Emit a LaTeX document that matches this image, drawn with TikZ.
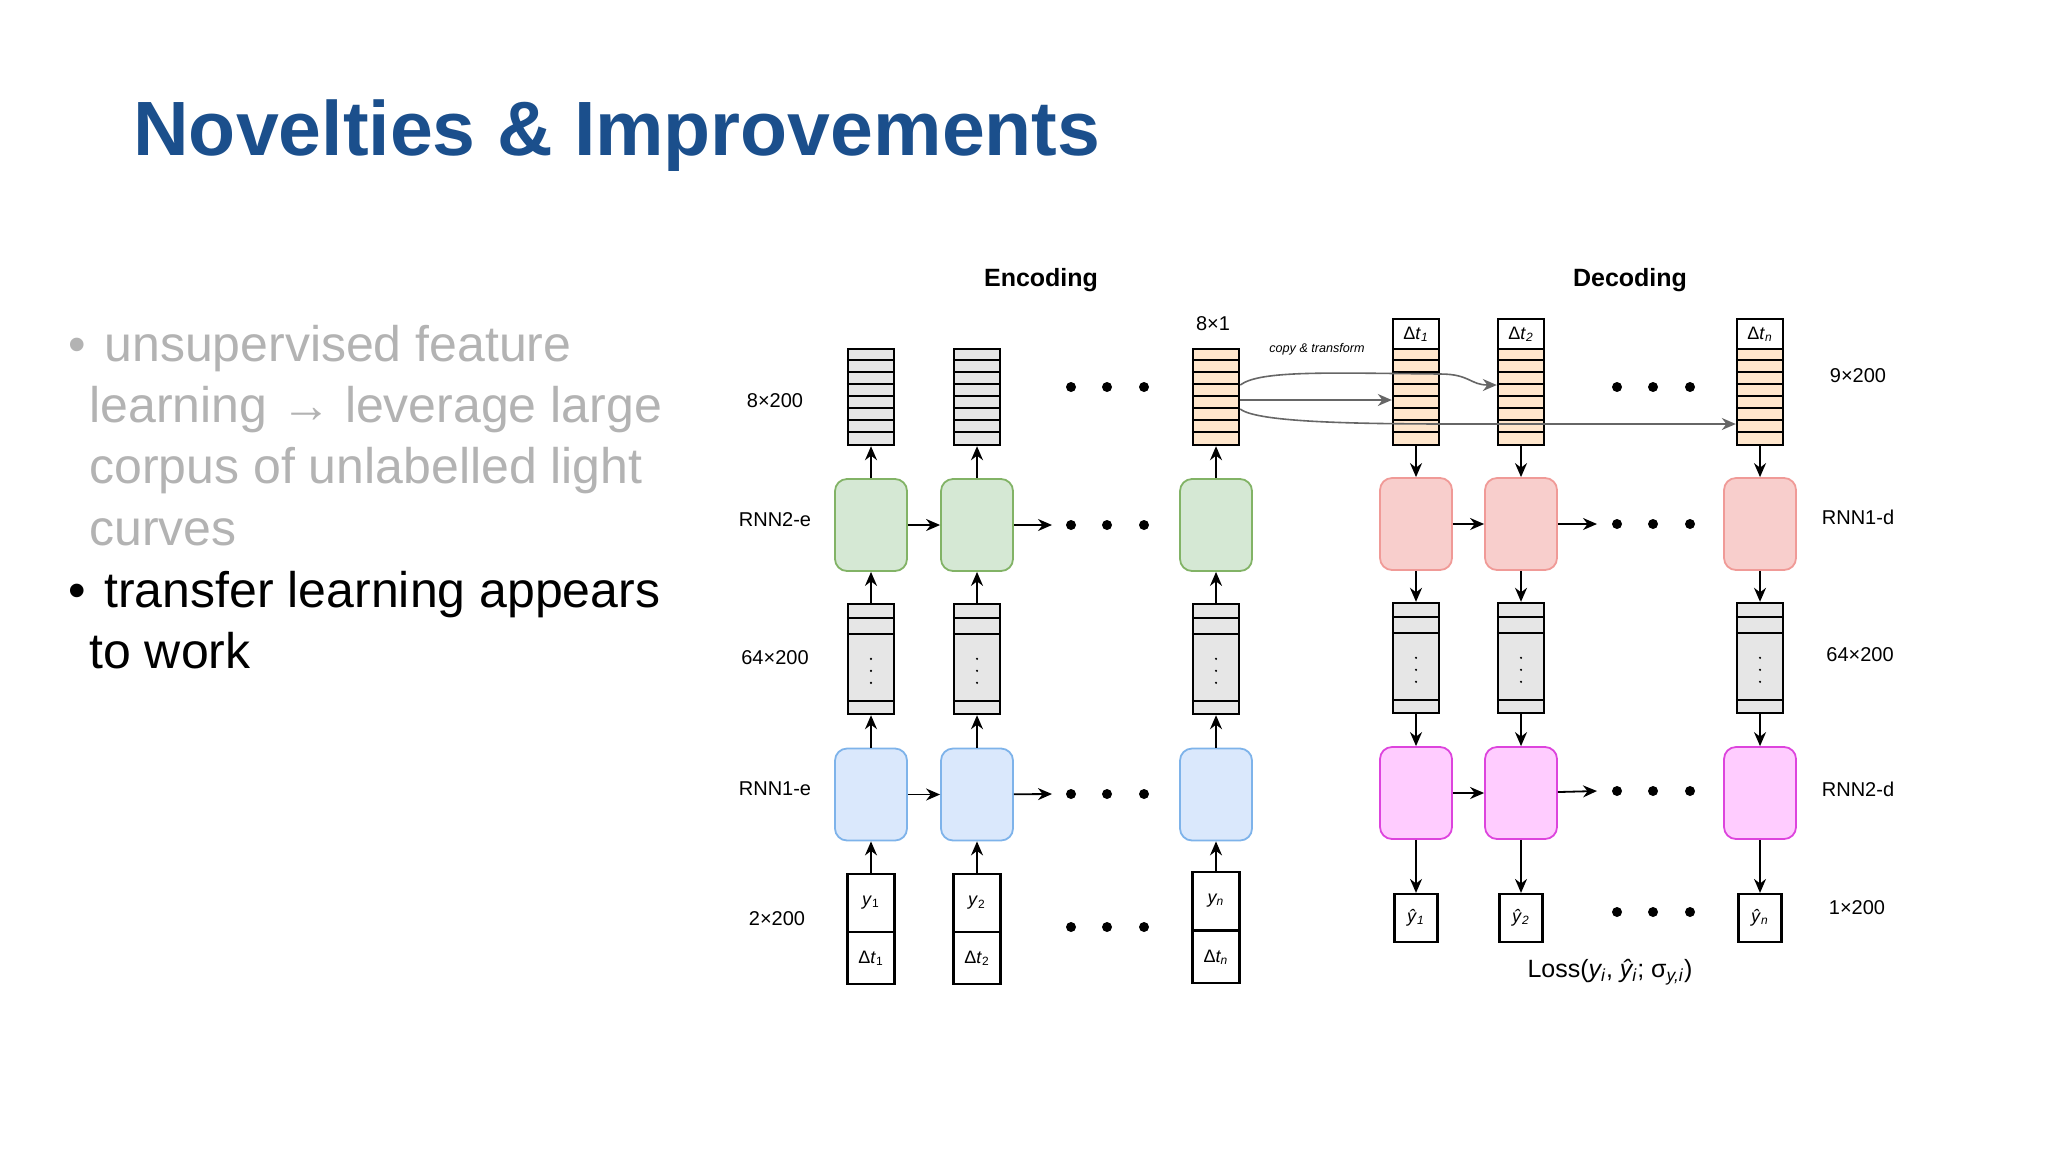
\documentclass[tikz,border=0pt]{standalone}
\usepackage{fontspec}
\setmainfont{Liberation Sans}
\usetikzlibrary{calc,arrows.meta}
\definecolor{titleblue}{HTML}{1B4F8C}
\definecolor{gfill}{HTML}{D5E8D4}\definecolor{gdraw}{HTML}{82B366}
\definecolor{bfill}{HTML}{DAE8FC}\definecolor{bdraw}{HTML}{7EB3EA}
\definecolor{rfill}{HTML}{F8CECC}\definecolor{rdraw}{HTML}{F09A97}
\definecolor{mfill}{HTML}{FFCCFF}\definecolor{mdraw}{HTML}{DD44DD}
\definecolor{ofill}{HTML}{FFE6CC}\definecolor{sfill}{HTML}{E6E6E6}
\definecolor{lightgray}{HTML}{B3B3B3}
\begin{document}
\begin{tikzpicture}[x=0.5pt,y=-0.5pt,
  stk/.style={draw,line width=1.2pt,minimum width=23pt,minimum height=48pt,inner sep=0pt},
  mid/.style={draw,line width=1.2pt,fill=sfill,minimum width=23pt,minimum height=55pt,inner sep=0pt},
  rnn/.style={draw,line width=0.9pt,rounded corners=6pt,minimum width=36pt,minimum height=46pt,inner sep=0pt},
  hdr/.style={draw,line width=1.1pt,fill=white,minimum width=23pt,minimum height=15pt,inner sep=0pt,font=\fontsize{9}{9}\selectfont},
  inb/.style={draw,line width=1.1pt,fill=white,minimum width=23.5pt,inner sep=0pt,font=\fontsize{9}{9}\selectfont},
  lbl/.style={font=\fontsize{10}{10}\selectfont},
  arr/.style={line width=0.9pt,-{Stealth[length=7pt,width=6pt]}},
  garr/.style={line width=0.8pt,draw=black!60,-{Stealth[length=7pt,width=6pt]}},
  dot/.style={circle,fill=black,inner sep=0pt,minimum size=5pt},
  bul/.style={anchor=base west,font=\fontsize{25}{25}\selectfont}]
\useasboundingbox (0,0) rectangle (2048,1152);
\fill[white] (0,0) rectangle (2048,1152);
% title
\node[anchor=base west,text=titleblue,font=\bfseries\fontsize{38.5}{38.5}\selectfont,inner sep=0pt] (title) at (133,155) {Novelties \& Improvements};
% bullets
\node[bul,text=lightgray,inner sep=0pt] (b1) at (68,361) {•};
\node[bul,text=lightgray,inner sep=0pt] (l1) at (104,361) {unsupervised feature};
\node[bul,text=lightgray,inner sep=0pt] (l2) at (89,422) {learning → leverage large};
\node[bul,text=lightgray,inner sep=0pt] (l3) at (89,483) {corpus of unlabelled light};
\node[bul,text=lightgray,inner sep=0pt] (l4) at (89,545) {curves};
\node[bul,text=black,inner sep=0pt] (b2) at (68,607) {•};
\node[bul,text=black,inner sep=0pt] (l5) at (104,607) {transfer learning appears};
\node[bul,text=black,inner sep=0pt] (l6) at (89,668) {to work};
% headings
\node[font=\bfseries\fontsize{12.5}{12.5}\selectfont] (enc) at (1041,280) {Encoding};
\node[font=\bfseries\fontsize{12.5}{12.5}\selectfont] (dec) at (1630,280) {Decoding};
% left labels
\node[lbl] (la) at (775,401) {8×200};
\node[lbl] (lb) at (775,520) {RNN2-e};
\node[lbl] (lc) at (775,658) {64×200};
\node[lbl] (ld) at (775,789) {RNN1-e};
\node[lbl] (le) at (777,919) {2×200};
\node[lbl] (ra) at (1858,376) {9×200};
\node[lbl] (rb) at (1858,517) {RNN1-d};
\node[lbl] (rc) at (1860,655) {64×200};
\node[lbl] (rd) at (1858,789) {RNN2-d};
\node[lbl] (re) at (1857,908) {1×200};
\node[lbl] (o81) at (1213,324) {8×1};
\node[font=\itshape\fontsize{6.3}{6.3}\selectfont] (ct) at (1317,349) {copy \& transform};
\node[font=\fontsize{12.5}{12.5}\selectfont] (loss) at (1610,972) {Loss(\textit{y\textsubscript{i}}, \textit{ŷ\textsubscript{i}}; σ\textsubscript{\textit{y,i}})};
% encoding columns
\foreach \n/\x/\f in {1/871/sfill,2/977/sfill,3/1216/ofill}{
  \node[stk,fill=\f] (et\n) at (\x,397) {};
  \foreach \k in {1,...,7} \draw[line width=1.2pt] ($(et\n.north west)+(0,\k*12)$) -- ++(46,0);
  \node[rnn,fill=gfill,draw=gdraw] (eu\n) at (\x,525) {};
  \node[mid] (em\n) at (\x,659) {};
  \foreach \k in {15,31,98} \draw[line width=1.2pt] ($(em\n.north west)+(0,\k)$) -- ++(46,0);
  \foreach \k in {1,2,3} \fill ($(em\n.north)+(0,44+\k*12)$) circle (1.2);
  \node[rnn,fill=bfill,draw=bdraw] (el\n) at (\x,794.5) {};
}
\node[inb,minimum height=29pt] (ey1) at (871,903) {\textit{y}\textsubscript{1}};
\node[inb,minimum height=26pt] (ed1) at (871,958) {Δ\textit{t}\textsubscript{1}};
\node[inb,minimum height=29pt] (ey2) at (977,903) {\textit{y}\textsubscript{2}};
\node[inb,minimum height=26pt] (ed2) at (977,958) {Δ\textit{t}\textsubscript{2}};
\node[inb,minimum height=29pt] (ey3) at (1216,901) {\textit{y\textsubscript{n}}};
\node[inb,minimum height=26pt] (ed3) at (1216,957) {Δ\textit{t\textsubscript{n}}};
\foreach \n in {1,2,3}{
  \draw[arr] (ey\n) -- (el\n);
  \draw[arr] (el\n) -- (em\n);
  \draw[arr] (em\n) -- (eu\n);
  \draw[arr] (eu\n) -- (et\n);
}
\coordinate (eua) at (1052,525);
\coordinate (ela) at (1052,794);
\draw[arr] (eu1) -- (eu2); \draw[arr] (eu2) -- (eua);
\draw[arr] (el1) -- (el2); \draw[arr] (el2) -- (ela);
\foreach \y in {387,525,794,927}{
  \foreach \x in {1071,1107,1144} \node[dot] at (\x,\y) {};
}
% decoding columns
\foreach \n/\x/\s in {1/1416/1,2/1521/2,3/1760/n}{
  \node[stk,fill=ofill] (dt\n) at (\x,397) {};
  \foreach \k in {1,...,7} \draw[line width=1.2pt] ($(dt\n.north west)+(0,\k*12)$) -- ++(46,0);
  \node[hdr] (dh\n) at (\x,334) {Δ\textit{t}\textsubscript{\textit{\s}}};
  \node[rnn,fill=rfill,draw=rdraw] (du\n) at (\x,524) {};
  \node[mid] (dm\n) at (\x,658) {};
  \foreach \k in {15,31,98} \draw[line width=1.2pt] ($(dm\n.north west)+(0,\k)$) -- ++(46,0);
  \foreach \k in {1,2,3} \fill ($(dm\n.north)+(0,44+\k*12)$) circle (1.2);
  \node[rnn,fill=mfill,draw=mdraw] (dl\n) at (\x,793) {};
  \node[draw,line width=1.1pt,fill=white,minimum width=21.5pt,minimum height=24pt,inner sep=0pt,font=\fontsize{9}{9}\selectfont] (dy\n) at (\x,918) {\textit{ŷ}\textsubscript{\textit{\s}}};
  \draw[arr] (dt\n) -- (du\n);
  \draw[arr] (du\n) -- (dm\n);
  \draw[arr] (dm\n) -- (dl\n);
  \draw[arr] (dl\n) -- (dy\n);
}
\coordinate (dua) at (1597,524);
\coordinate (dla) at (1597,791);
\draw[arr] (du1) -- (du2); \draw[arr] (du2) -- (dua);
\draw[arr] (dl1) -- (dl2); \draw[arr] (dl2) -- (dla);
\foreach \y in {387,524,791,912}{
  \foreach \x in {1617,1653,1690} \node[dot] at (\x,\y) {};
}
% copy & transform connectors
\draw[garr] (et3.east |- 0,400) -- (dt1.west |- 0,400);
\draw[garr] (et3.east |- 0,385) .. controls (1260,370) and (1330,373) .. (1440,374) .. controls (1470,374) and (1470,385) .. (dt2.west |- 0,385);
\draw[garr] (et3.east |- 0,409) .. controls (1260,425) and (1400,424) .. (1500,424) -- (dt3.west |- 0,424);
\end{tikzpicture}
\end{document}
